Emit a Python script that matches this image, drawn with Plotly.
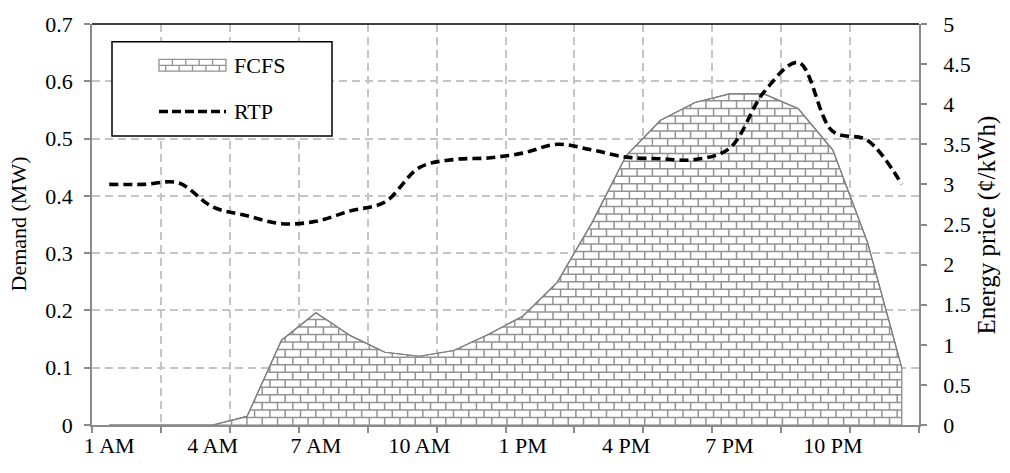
import numpy as np
import plotly.graph_objects as go

# Hourly categories (1 AM ... 12 AM)
hours = ["1 AM", "2 AM", "3 AM", "4 AM", "5 AM", "6 AM", "7 AM", "8 AM",
         "9 AM", "10 AM", "11 AM", "12 PM", "1 PM", "2 PM", "3 PM", "4 PM",
         "5 PM", "6 PM", "7 PM", "8 PM", "9 PM", "10 PM", "11 PM", "12 AM"]

# Demand under first-come-first-served charging (MW)
fcfs = [0.0, 0.0, 0.0, 0.0, 0.015, 0.148, 0.196, 0.156, 0.127, 0.120,
        0.130, 0.158, 0.190, 0.249, 0.352, 0.470, 0.532, 0.563, 0.578,
        0.578, 0.552, 0.480, 0.320, 0.100]

# Real-time energy price (cents/kWh)
rtp = [3.00, 3.00, 3.02, 2.72, 2.61, 2.51, 2.54, 2.67, 2.78, 3.21,
       3.31, 3.33, 3.39, 3.50, 3.43, 3.34, 3.32, 3.31, 3.45, 4.15,
       4.52, 3.66, 3.55, 3.00]

idx = np.arange(len(hours))
tick_pos = idx[::3]
tick_text = hours[::3]

FONT = "Times New Roman, Liberation Serif, Tinos, serif"
AXIS_GRAY = "#8a8a8a"
GRID_GRAY = "#c4c4c4"
BRICK_GRAY = "#929292"

# plot-area geometry in pixels (used to size the brick texture)
PLOT_W, PLOT_H = 827, 408
Y_MAX = 0.7
X_SPAN = 24.0
brick_w = 15.3 * X_SPAN / PLOT_W      # in category units
brick_h = 7.67 * Y_MAX / PLOT_H       # in MW

# ---- brick texture clipped to the area under the FCFS curve ----
xs = np.linspace(0, len(fcfs) - 1, (len(fcfs) - 1) * 800 + 1)
fs = np.interp(xs, idx, fcfs)
bx, by = [], []
k = 1
while k * brick_h < max(fcfs):
    yk = k * brick_h
    mask = fs >= yk
    d = np.diff(mask.astype(int))
    starts = list(np.where(d == 1)[0] + 1)
    ends = list(np.where(d == -1)[0])
    if mask[0]:
        starts = [0] + starts
    if mask[-1]:
        ends = ends + [len(xs) - 1]
    for s, e in zip(starts, ends):
        bx += [xs[s], xs[e], None]
        by += [yk, yk, None]
    k += 1
k = 0
while k * brick_h < max(fcfs):
    y0, y1 = k * brick_h, (k + 1) * brick_h
    xj = (k % 2) * brick_w / 2
    while xj <= len(fcfs) - 1:
        top = min(y1, float(np.interp(xj, idx, fcfs)))
        if top > y0 + 1e-6:
            bx += [xj, xj, None]
            by += [y0, top, None]
        xj += brick_w
    k += 1

fig = go.Figure()

# white area body with grey outline
fig.add_trace(go.Scatter(
    x=list(idx) + [idx[-1], idx[0]],
    y=fcfs + [0, 0],
    fill="toself", fillcolor="white", mode="lines",
    line=dict(color="#7f7f7f", width=1.2),
    hoverinfo="skip", showlegend=False, yaxis="y"))

fig.add_trace(go.Scatter(
    x=bx, y=by, mode="lines",
    line=dict(color=BRICK_GRAY, width=1.5),
    hoverinfo="skip", showlegend=False, yaxis="y"))

fig.add_trace(go.Scatter(
    x=idx, y=fcfs, mode="lines",
    line=dict(color="#7f7f7f", width=1.2),
    name="FCFS", showlegend=False, yaxis="y"))

fig.add_trace(go.Scatter(
    x=idx, y=rtp, mode="lines", name="RTP",
    line=dict(color="black", width=3.6, dash="9px,5px", shape="spline", smoothing=1),
    showlegend=False, yaxis="y2"))

tickfont = dict(family=FONT, size=22, color="black")

fig.update_layout(
    width=1010, height=473,
    margin=dict(l=92, r=91, t=17, b=48),
    paper_bgcolor="white", plot_bgcolor="white",
    font=dict(family=FONT, size=22, color="black"),
    xaxis=dict(
        range=[-0.5, 23.5], tickmode="array", tickvals=tick_pos, ticktext=tick_text,
        ticks="", showgrid=False, zeroline=False,
        showline=True, linecolor=AXIS_GRAY, linewidth=1.5,
        tickfont=tickfont, ticklabelstandoff=0,
        minor=dict(tickmode="array", tickvals=list(np.arange(-0.5, 24, 2.0)),
                   ticks="outside", ticklen=6, tickwidth=1.5, tickcolor=AXIS_GRAY,
                   showgrid=True, gridcolor=GRID_GRAY, gridwidth=1.5, griddash="8px,5px"),
    ),
    yaxis=dict(
        range=[0, 0.7], dtick=0.1, tick0=0,
        showgrid=True, gridcolor=GRID_GRAY, gridwidth=1.5, griddash="8px,5px",
        zeroline=False, showline=True, linecolor=AXIS_GRAY, linewidth=1.5,
        ticks="outside", ticklen=6, tickwidth=1.5, tickcolor=AXIS_GRAY,
        tickfont=tickfont, ticklabelstandoff=7,
    ),
    yaxis2=dict(
        range=[0, 5], dtick=0.5, tick0=0, overlaying="y", side="right",
        showgrid=False, zeroline=False, showline=True, linecolor=AXIS_GRAY, linewidth=1.5,
        ticks="outside", ticklen=6, tickwidth=1.5, tickcolor=AXIS_GRAY,
        tickfont=tickfont, ticklabelstandoff=12,
    ),
)


def px_x(p):
    return (p - 92) / PLOT_W


def px_y(p):
    return (425 - p) / PLOT_H


shapes = [
    # top border of the plot area
    dict(type="line", xref="paper", yref="paper", x0=0, x1=1, y0=1, y1=1,
         line=dict(color="black", width=1.5)),
    # legend frame
    dict(type="rect", xref="paper", yref="paper",
         x0=px_x(112), x1=px_x(332), y0=px_y(131), y1=px_y(35),
         line=dict(color="black", width=1.5), fillcolor="white"),
    # legend swatch: brick block
    dict(type="rect", xref="paper", yref="paper",
         x0=px_x(159), x1=px_x(226), y0=px_y(65), y1=px_y(53),
         line=dict(color=BRICK_GRAY, width=1.3), fillcolor="white"),
    dict(type="line", xref="paper", yref="paper",
         x0=px_x(159), x1=px_x(226), y0=px_y(59), y1=px_y(59),
         line=dict(color=BRICK_GRAY, width=1.3)),
    # legend swatch: dashed price line
    dict(type="line", xref="paper", yref="paper",
         x0=px_x(159), x1=px_x(226), y0=px_y(106), y1=px_y(106),
         line=dict(color="black", width=3.6, dash="9px,4px")),
]
for i in range(1, 5):
    xa = 159 + i * 13.4
    shapes.append(dict(type="line", xref="paper", yref="paper",
                       x0=px_x(xa), x1=px_x(xa), y0=px_y(59), y1=px_y(53),
                       line=dict(color=BRICK_GRAY, width=1.3)))
for i in range(5):
    xb = 159 + 6.7 + i * 13.4
    shapes.append(dict(type="line", xref="paper", yref="paper",
                       x0=px_x(xb), x1=px_x(xb), y0=px_y(65), y1=px_y(59),
                       line=dict(color=BRICK_GRAY, width=1.3)))
fig.update_layout(shapes=shapes)

annotations = [
    dict(text="FCFS", xref="paper", yref="paper", x=px_x(232), y=px_y(59),
         xanchor="left", yanchor="middle", showarrow=False, font=tickfont),
    dict(text="RTP", xref="paper", yref="paper", x=px_x(232), y=px_y(106),
         xanchor="left", yanchor="middle", showarrow=False, font=tickfont),
    dict(text="Demand (MW)", xref="paper", yref="paper", x=px_x(18), y=0.5,
         xanchor="center", yanchor="middle", textangle=-90, showarrow=False, font=tickfont),
    dict(text="Energy price (¢/kWh)", xref="paper", yref="paper", x=px_x(986), y=0.5,
         xanchor="center", yanchor="middle", textangle=-90, showarrow=False,
         font=dict(family=FONT, size=25, color="black")),
]
fig.update_layout(annotations=annotations)

fig.write_html("out.html")
